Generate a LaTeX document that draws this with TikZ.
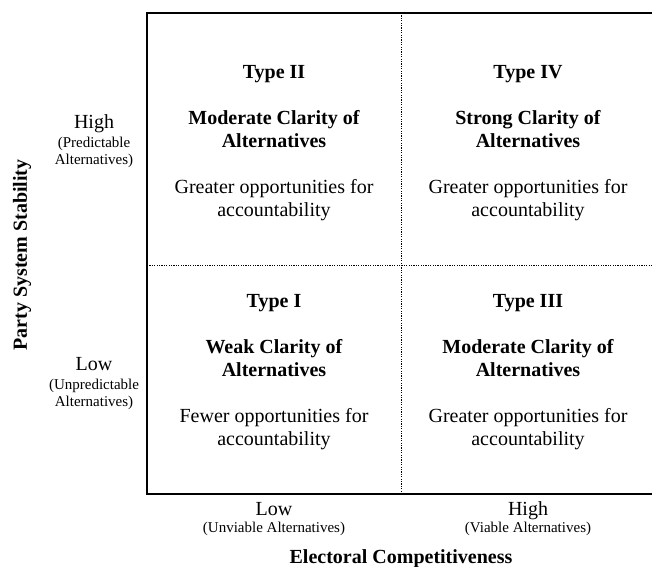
\documentclass[tikz,border=0pt]{standalone}
\usepackage{fontspec}
\setmainfont{Liberation Serif}
\tikzset{
  celltext/.style={align=center,inner sep=0.75pt,font=\fontsize{20}{23}\selectfont},
  bigtext/.style={anchor=base,inner sep=0.75pt,font=\fontsize{20}{23}\selectfont},
  smalltext/.style={anchor=base,inner sep=0.75pt,font=\fontsize{15}{17}\selectfont},
  axistext/.style={inner sep=0.75pt,font=\fontsize{20}{23}\selectfont\bfseries},
  divider/.style={line width=0.9pt,dash pattern=on 1.2pt off 1.2pt},
}
\begin{document}
\begin{tikzpicture}[x=1pt,y=1pt,yscale=-1,xscale=1]
\useasboundingbox (0,0) rectangle (652,566);

% frame
\coordinate (tl) at (147,13);
\coordinate (tr) at (652,13);
\coordinate (bl) at (147,494);
\coordinate (br) at (652,494);
\draw [line width=1.3pt] (tr) -- (tl) -- (bl) -- (br);

% dividers
\coordinate (midtop) at (401,13);
\coordinate (midbot) at (401,494);
\coordinate (midleft) at (147,265);
\coordinate (midright) at (652,265);
\draw [divider] (midtop) -- (midbot);
\draw [divider] (midleft) -- (midright);

% Text Node
\node (typeii) [celltext] at (274,143) {\textbf{Type II}\\[23pt]\textbf{Moderate Clarity of}\\\textbf{Alternatives}\\[23pt]Greater opportunities for\\accountability};
% Text Node
\node (typeiv) [celltext] at (528,143) {\textbf{Type IV}\\[23pt]\textbf{Strong Clarity of}\\\textbf{Alternatives}\\[23pt]Greater opportunities for\\accountability};
% Text Node
\node (typei) [celltext] at (274,372) {\textbf{Type I}\\[23pt]\textbf{Weak Clarity of}\\\textbf{Alternatives}\\[23pt]Fewer opportunities for\\accountability};
% Text Node
\node (typeiii) [celltext] at (528,372) {\textbf{Type III}\\[23pt]\textbf{Moderate Clarity of}\\\textbf{Alternatives}\\[23pt]Greater opportunities for\\accountability};

% Text Node
\node (yhigh) [bigtext] at (94,128) {High};
\node (yhighsuba) [smalltext] at (94,147) {(Predictable};
\node (yhighsubb) [smalltext] at (94,164) {Alternatives)};
% Text Node
\node (ylow) [bigtext] at (94,370) {Low};
\node (ylowsuba) [smalltext] at (94,389) {(Unpredictable};
\node (ylowsubb) [smalltext] at (94,406) {Alternatives)};
% Text Node
\node (ytitle) [axistext,rotate=90] at (22,255) {Party System Stability};

% Text Node
\node (xlow) [bigtext] at (274,515) {Low};
\node (xlowsub) [smalltext] at (274,532) {(Unviable Alternatives)};
% Text Node
\node (xhigh) [bigtext] at (528,515) {High};
\node (xhighsub) [smalltext] at (528,532) {(Viable Alternatives)};
% Text Node
\node (xtitle) [axistext,anchor=base] at (401,563) {Electoral Competitiveness};

\end{tikzpicture}
\end{document}
